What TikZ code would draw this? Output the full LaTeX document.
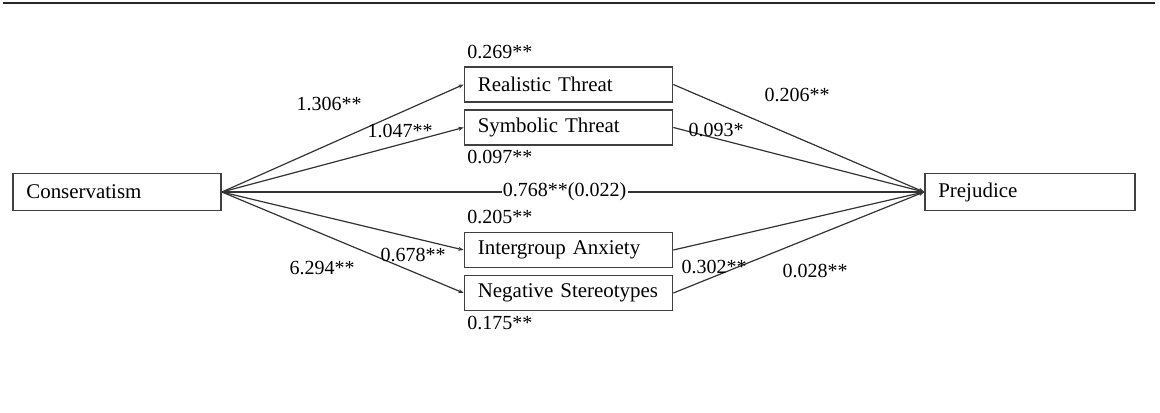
\documentclass[tikz,border=0pt]{standalone}
\usepackage{fontspec}
\setmainfont{Liberation Serif}
\usetikzlibrary{arrows.meta}
\begin{document}
\begin{tikzpicture}[x=0.75pt,y=-0.75pt,
  every node/.style={font=\fontsize{15pt}{18pt}\selectfont, text=black},
  box/.style={draw=black!75, line width=1.3pt, text width=136pt, inner xsep=10pt, inner ysep=0pt, align=left, minimum height=26.25pt, font=\fontsize{15.7pt}{18pt}\selectfont},
  bigbox/.style={box, minimum height=27.75pt},
  conn/.style={draw=black!80, line width=0.9pt, -{Stealth[length=4pt,width=3pt]}},
  lab/.style={inner sep=0pt},
  rule/.style={draw=black!85, line width=1.5pt}]
\useasboundingbox (0,0) rectangle (1160,412);
\draw[rule] (3,3) -- (1155,3);
% nodes
\node[bigbox] (cons) at (117,192) {Conservatism};
\node[bigbox, text width=137.5pt] (prej) at (1030,192) {Prejudice};
\node[box] (rt) at (568.5,84.5) {Realistic Threat};
\node[box] (st) at (568.5,127.5) {Symbolic Threat};
\node[box] (ia) at (568.5,250) {Intergroup Anxiety};
\node[box] (ns) at (568.5,293) {Negative Stereotypes};
% connectors
\draw[conn] (cons.east) -- (rt.west);
\draw[conn] (cons.east) -- (st.west);
\draw[conn] (cons.east) -- (ia.west);
\draw[conn] (cons.east) -- (ns.west);
\draw[conn] (rt.east) -- (prej.west);
\draw[conn] (st.east) -- (prej.west);
\draw[conn] (ia.east) -- (prej.west);
\draw[conn] (ns.east) -- (prej.west);
\draw[conn] (cons.east) -- node[pos=0.488, fill=white, inner xsep=1pt, inner ysep=0pt] (dir) {0.768**(0.022)} (prej.west);
% labels
\node[lab, anchor=west] (l1) at (467,52) {0.269**};
\node[lab, anchor=west] (l2) at (467,157) {0.097**};
\node[lab, anchor=west] (l3) at (467,217) {0.205**};
\node[lab, anchor=west] (l4) at (467,323) {0.175**};
\node[lab] (l5) at (329,104) {1.306**};
\node[lab] (l6) at (400,131) {1.047**};
\node[lab] (l7) at (797,95) {0.206**};
\node[lab] (l8) at (716,130) {0.093*};
\node[lab] (l9) at (413,255) {0.678**};
\node[lab] (l10) at (322,268) {6.294**};
\node[lab] (l11) at (714,267) {0.302**};
\node[lab] (l12) at (815,271) {0.028**};
\end{tikzpicture}
\end{document}
